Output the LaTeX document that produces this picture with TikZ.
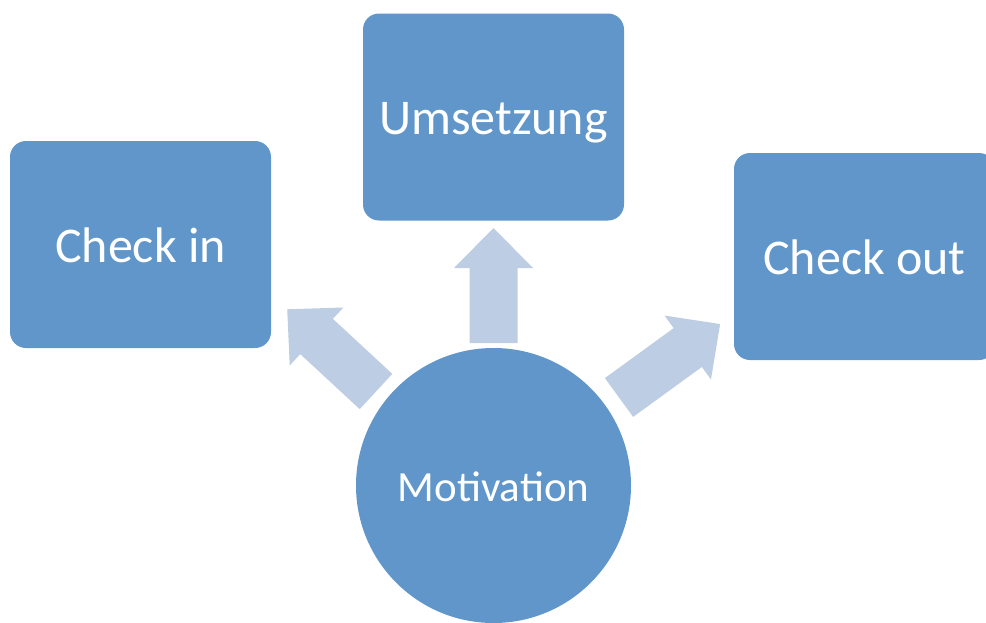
\documentclass[tikz,border=0pt]{standalone}
\usepackage{fontspec}
\setmainfont{Carlito}
\definecolor{boxblue}{HTML}{6096C9}
\definecolor{arrowblue}{HTML}{BDCDE3}
\begin{document}
\begin{tikzpicture}[x=1pt,y=-1pt,
  box/.style={fill=boxblue, draw=none, rounded corners=16pt, minimum width=261pt, minimum height=207pt, text=white, font=\fontsize{50}{60}\selectfont, text height=35.6pt, text depth=0pt, inner sep=0pt},
  hub/.style={circle, fill=boxblue, draw=none, minimum size=275pt, text=white, font=\fontsize{43}{52}\selectfont, inner sep=0pt, text height=31.2pt, text depth=0pt},
  pics/blockarrow/.style={code={\fill[arrowblue] (0pt,-24pt) -- (#1-40pt,-24pt) -- (#1-40pt,-39.5pt) -- (#1,0pt) -- (#1-40pt,39.5pt) -- (#1-40pt,24pt) -- (0pt,24pt) -- cycle;}}
]
\useasboundingbox (0,0) rectangle (986,622);
\clip (0,0) rectangle (986,622);
\node[box] (cin) at (140.5,244.5) {Check in};
\node[box] (ums) at (493.5,117) {Umsetzung};
\node[box] (cout) at (864.5,256.5) {Check out};
\node[hub] (mot) at (493.5,485.5) {Motivation};
\pic[rotate=90] (aup) at (493.5,343) {blockarrow=115pt};
\pic[rotate=137.2] (aleft) at (376,391.5) {blockarrow=121pt};
\pic[rotate=36] (aright) at (619,397.5) {blockarrow=125pt};
\end{tikzpicture}
\end{document}
